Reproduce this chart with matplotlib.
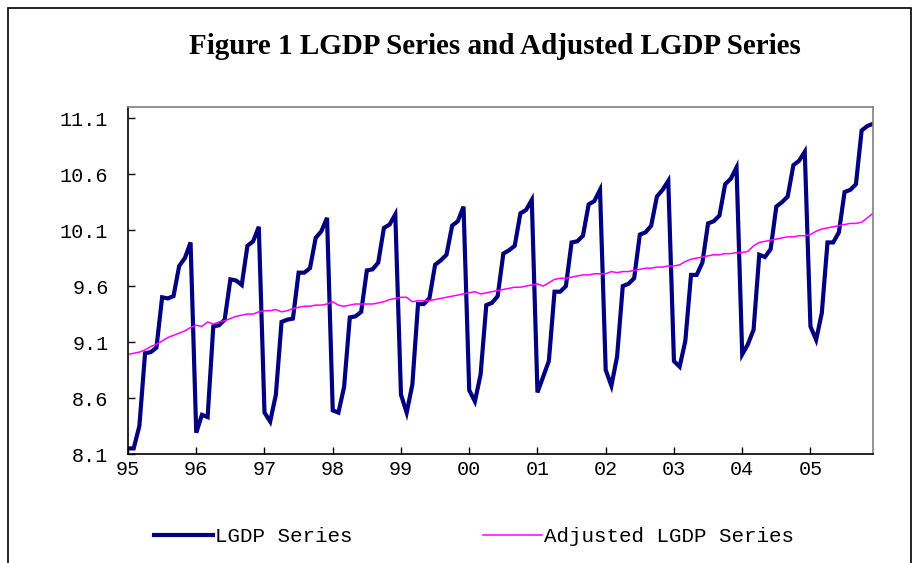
import numpy as np
import matplotlib
matplotlib.use('Agg')
import matplotlib.pyplot as plt
from matplotlib.patches import Rectangle

# ---- data (monthly, 1995-2005) ----
year_labels = ['95', '96', '97', '98', '99', '00', '01', '02', '03', '04', '05']

lgdp = [
    8.15, 8.15, 8.35, 9.00, 9.01, 9.05, 9.50, 9.49, 9.51, 9.78, 9.85, 9.99,
    8.29, 8.45, 8.43, 9.24, 9.25, 9.30, 9.66, 9.65, 9.61, 9.96, 10.00, 10.13,
    8.47, 8.39, 8.63, 9.28, 9.30, 9.31, 9.72, 9.72, 9.76, 10.03, 10.09, 10.21,
    8.49, 8.47, 8.70, 9.32, 9.33, 9.37, 9.74, 9.75, 9.81, 10.12, 10.15, 10.24,
    8.63, 8.47, 8.72, 9.44, 9.44, 9.49, 9.79, 9.83, 9.88, 10.14, 10.18, 10.31,
    8.67, 8.57, 8.81, 9.43, 9.45, 9.51, 9.89, 9.92, 9.96, 10.25, 10.28, 10.37,
    8.65, 8.79, 8.93, 9.55, 9.55, 9.60, 9.99, 10.00, 10.05, 10.33, 10.36, 10.46,
    8.85, 8.71, 8.97, 9.60, 9.62, 9.67, 10.06, 10.08, 10.14, 10.40, 10.46, 10.54,
    8.93, 8.88, 9.11, 9.70, 9.70, 9.81, 10.16, 10.18, 10.23, 10.51, 10.56, 10.66,
    8.99, 9.08, 9.21, 9.88, 9.86, 9.93, 10.31, 10.35, 10.40, 10.68, 10.72, 10.80,
    9.24, 9.12, 9.36, 9.99, 9.99, 10.08, 10.44, 10.46, 10.51, 10.99, 11.03, 11.05,
]

lgdp_adj = [
    8.99, 9.00, 9.01, 9.03, 9.06, 9.08, 9.11, 9.14, 9.16, 9.18, 9.20, 9.23,
    9.25, 9.24, 9.28, 9.26, 9.28, 9.29, 9.31, 9.33, 9.34, 9.35, 9.35, 9.37,
    9.38, 9.38, 9.39, 9.37, 9.38, 9.40, 9.41, 9.42, 9.42, 9.43, 9.43, 9.44,
    9.46, 9.43, 9.42, 9.43, 9.44, 9.44, 9.44, 9.44, 9.45, 9.46, 9.48, 9.49,
    9.50, 9.50, 9.46, 9.47, 9.47, 9.47, 9.48, 9.49, 9.50, 9.51, 9.52, 9.53,
    9.54, 9.55, 9.53, 9.54, 9.55, 9.56, 9.57, 9.58, 9.59, 9.59, 9.60, 9.61,
    9.62, 9.60, 9.63, 9.66, 9.67, 9.67, 9.68, 9.69, 9.70, 9.70, 9.71, 9.71,
    9.71, 9.73, 9.72, 9.73, 9.73, 9.74, 9.75, 9.76, 9.76, 9.77, 9.77, 9.78,
    9.78, 9.79, 9.82, 9.84, 9.85, 9.86, 9.87, 9.88, 9.88, 9.89, 9.89, 9.90,
    9.90, 9.91, 9.96, 9.99, 10.00, 10.01, 10.02, 10.03, 10.04, 10.04, 10.05, 10.05,
    10.06, 10.09, 10.11, 10.12, 10.13, 10.14, 10.15, 10.16, 10.16, 10.17, 10.21, 10.25,
]

y_ticks = [8.1, 8.6, 9.1, 9.6, 10.1, 10.6, 11.1]

# ---- figure ----
mono = ['Liberation Mono', 'DejaVu Sans Mono']
fig = plt.figure(figsize=(9.17, 5.63), dpi=100)
ax = fig.add_axes([128 / 917, 1 - 454 / 563, 745 / 917, 347 / 563])

x = np.arange(len(lgdp))
ax.plot(x, lgdp, color='#000080', lw=3, label='LGDP Series', solid_joinstyle='miter')
ax.plot(x, lgdp_adj, color='#FF00FF', lw=1.1, label='Adjusted LGDP Series')

ax.set_xlim(0, len(lgdp) - 1)
ax.set_ylim(8.1, 11.2)
ax.set_xticks(np.arange(len(year_labels)) * 12)
ax.set_xticklabels(year_labels)
ax.set_yticks(y_ticks)
ax.set_yticklabels(['%.1f' % v for v in y_ticks])
ax.tick_params(direction='in', length=5, width=1, colors='black')
ax.tick_params(axis='y', pad=14)
ax.tick_params(axis='x', pad=4)
for lab in ax.get_xticklabels() + ax.get_yticklabels():
    lab.set_family(mono)
    lab.set_fontsize(14.5)

# plot area border: axes black, top/right grey
ax.spines['left'].set_color('black')
ax.spines['bottom'].set_color('black')
ax.spines['top'].set_color('#808080')
ax.spines['right'].set_color('#808080')
for s in ax.spines.values():
    s.set_linewidth(1.2)

fig.text(495 / 917, 1 - 47 / 563, 'Figure 1 LGDP Series and Adjusted LGDP Series',
         family='Liberation Serif', weight='bold', fontsize=21, ha='center', va='center')

leg = fig.legend(loc='center', bbox_to_anchor=(474 / 917, 1 - 537 / 563), ncol=2,
                 frameon=False, handlelength=2.8, handletextpad=0.1, columnspacing=6.3,
                 prop={'family': mono, 'size': 15})

# chart area border
fig.patches.append(Rectangle((8 / 917, -0.2), 903 / 917, 1.2 - 8 / 563,
                             transform=fig.transFigure, fill=False,
                             edgecolor='black', lw=1.2))

fig.savefig('out.png', dpi=100)
